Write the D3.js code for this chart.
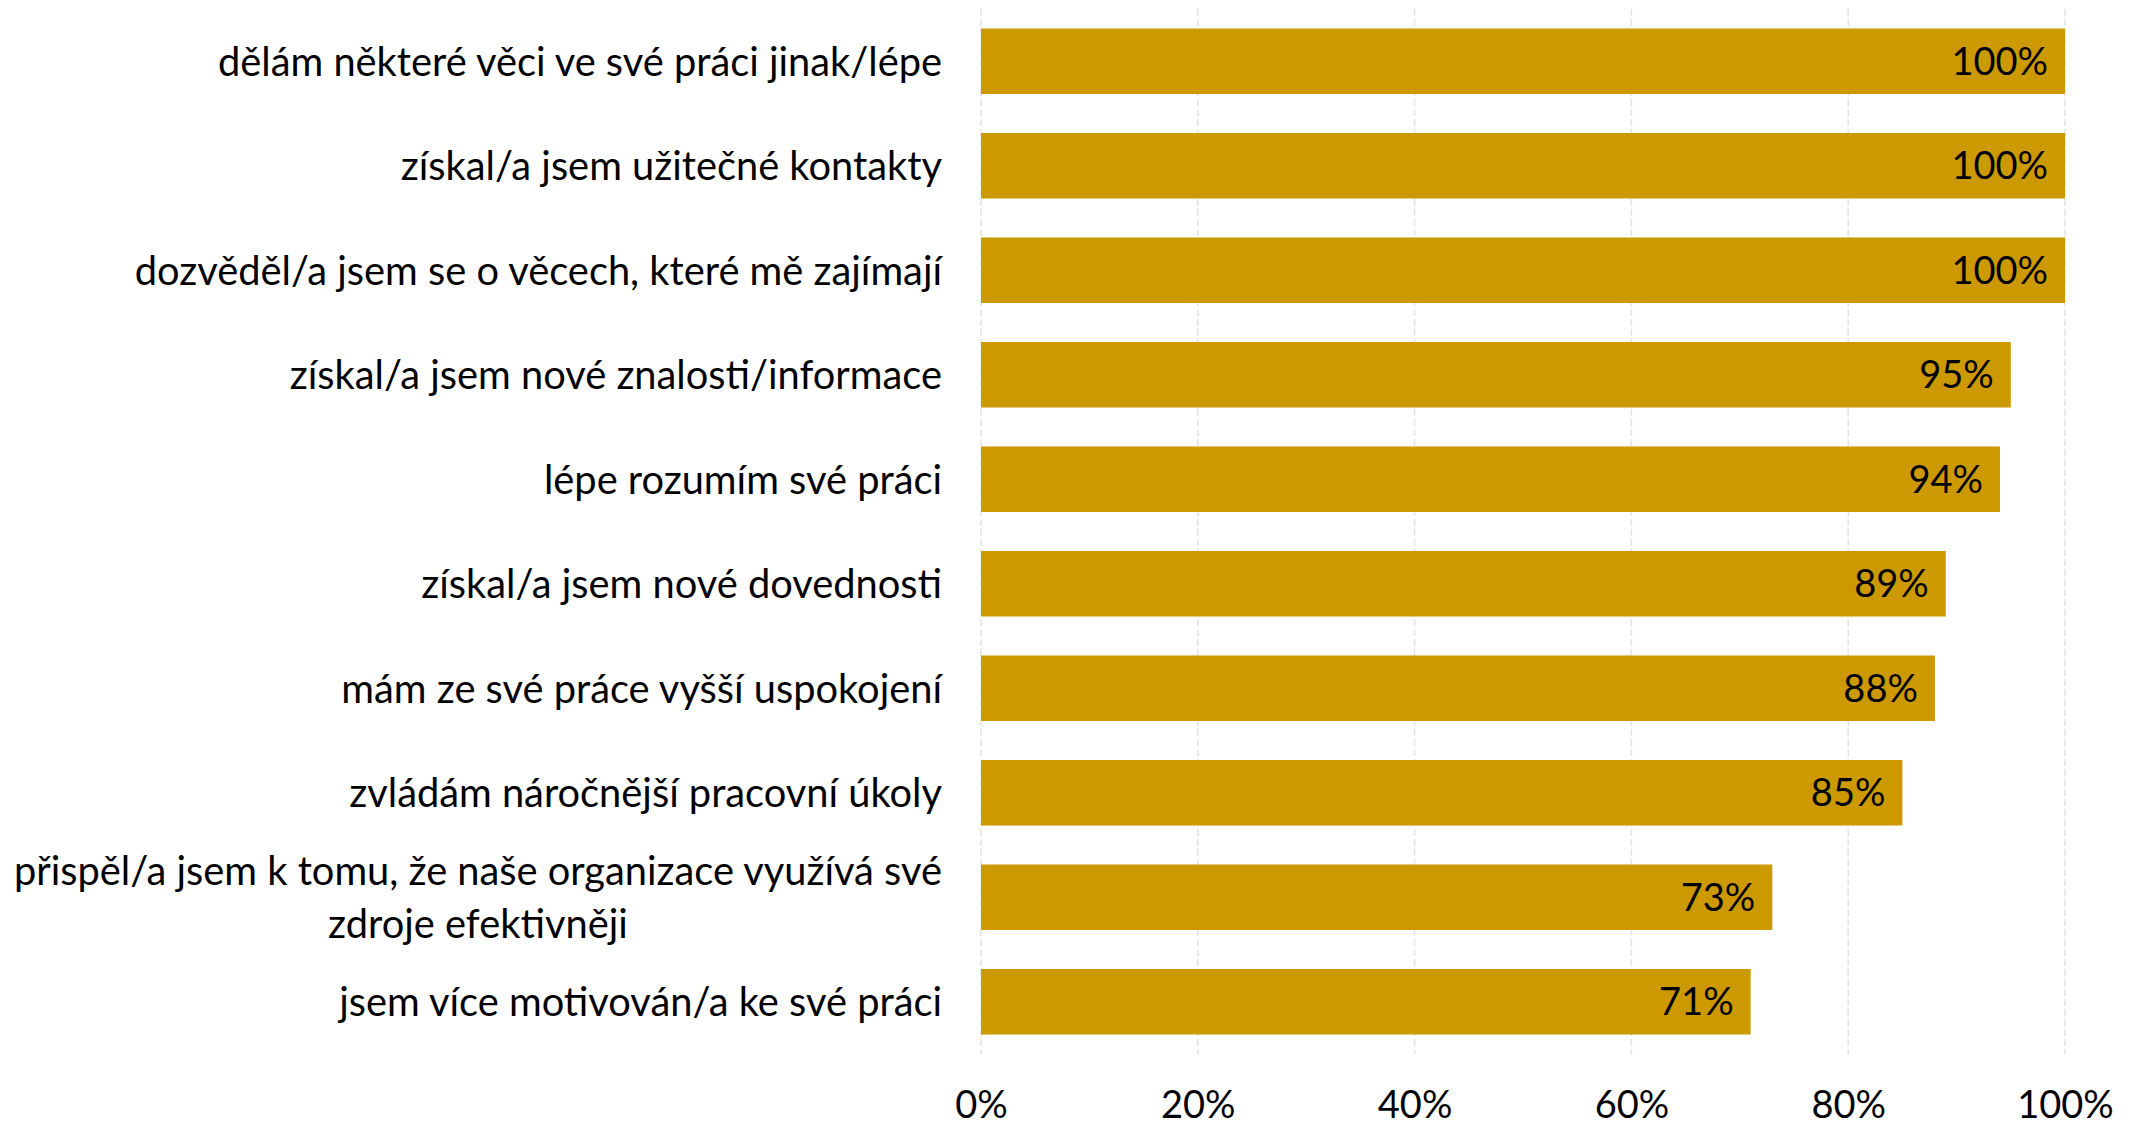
<!DOCTYPE html>
<html>
<head>
<meta charset="utf-8">
<script src="https://cdn.jsdelivr.net/npm/d3@7"></script>
<style>
  html, body { margin: 0; padding: 0; background: #fff; }
  svg text { font-family: Lato, "Open Sans", sans-serif; fill: #000; }
</style>
</head>
<body>
<svg id="chart"></svg>
<script>
// data
const categories = [
    "dělám některé věci ve své práci jinak/lépe",
    "získal/a jsem užitečné kontakty",
    "dozvěděl/a jsem se o věcech, které mě zajímají",
    "získal/a jsem nové znalosti/informace",
    "lépe rozumím své práci",
    "získal/a jsem nové dovednosti",
    "mám ze své práce vyšší uspokojení",
    "zvládám náročnější pracovní úkoly",
    "přispěl/a jsem k tomu, že naše organizace využívá své\nzdroje efektivněji",
    "jsem více motivován/a ke své práci"
];
const values = [100, 100, 100, 95, 94, 89, 88, 85, 73, 71];
const tickValues = [0, 20, 40, 60, 80, 100];

const width = 2134, height = 1126;
const fontSize = 38;
const catFontSize = 39.8;
const barColor = "#CC9900";

const svg = d3.select("#chart").attr("width", width).attr("height", height);

const x = d3.scaleLinear().domain([0, 100]).range([981, 2065]);
const y = d3.scaleBand().domain(categories).range([9, 1054])
    .paddingInner(0.373).paddingOuter(0.1865);

// dashed vertical gridlines
svg.append("g").selectAll("line").data(tickValues).join("line")
    .attr("x1", d => x(d)).attr("x2", d => x(d))
    .attr("y1", 9).attr("y2", 1054)
    .attr("stroke", "#e3e3e3").attr("stroke-width", 1.5)
    .attr("stroke-dasharray", "7,3");

// bars
svg.append("g").selectAll("rect").data(values).join("rect")
    .attr("x", x(0))
    .attr("y", (d, i) => y(categories[i]))
    .attr("width", d => x(d) - x(0))
    .attr("height", y.bandwidth())
    .attr("fill", barColor);

// value labels inside bar ends
svg.append("g").selectAll("text").data(values).join("text")
    .attr("x", d => x(d) - 17)
    .attr("y", (d, i) => y(categories[i]) + y.bandwidth() / 2)
    .attr("dy", "0.36em")
    .attr("text-anchor", "end")
    .style("font-size", fontSize + "px")
    .text(d => d + "%");

// category labels (multi-line labels are centred on each other, block right-aligned)
const labelRight = 942, lineGap = 53;
const catG = svg.append("g");
categories.forEach(c => {
    const lines = c.split("\n");
    const cy = y(c) + y.bandwidth() / 2;
    const t = catG.append("text").style("font-size", catFontSize + "px");
    if (lines.length === 1) {
        t.attr("x", labelRight).attr("y", cy).attr("dy", "0.36em")
            .attr("text-anchor", "end").text(c);
        return;
    }
    const spans = lines.map((l, j) => t.append("tspan")
        .attr("y", cy + (j - (lines.length - 1) / 2) * lineGap)
        .attr("dy", "0.36em")
        .attr("text-anchor", "middle")
        .text(l));
    const blockW = d3.max(spans, s => s.node().getComputedTextLength());
    spans.forEach(s => s.attr("x", labelRight - blockW / 2));
});

// x axis
const axis = svg.append("g").attr("transform", `translate(0,1054)`)
    .call(d3.axisBottom(x).tickValues(tickValues).tickSize(0).tickPadding(37).tickFormat(d => d + "%"));
axis.select(".domain").remove();
axis.selectAll("text")
    .style("font-size", fontSize + "px")
    .style("font-family", "Lato, 'Open Sans', sans-serif")
    .attr("fill", "#000");
</script>
</body>
</html>
